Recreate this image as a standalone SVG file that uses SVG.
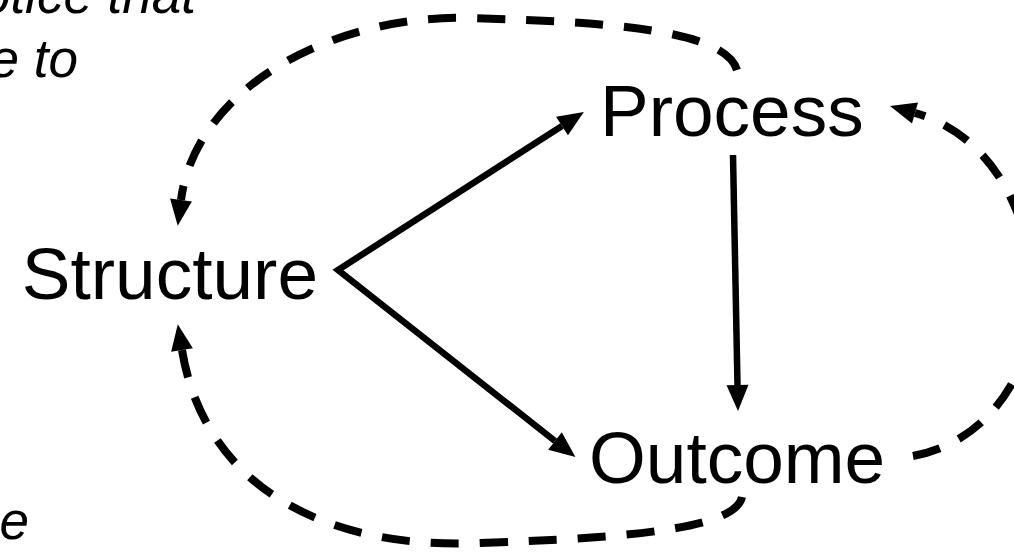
<svg xmlns="http://www.w3.org/2000/svg" width="1014" height="553" viewBox="0 0 1014 553">
  <style>
    .label { font-family: "Liberation Sans", Arial, sans-serif; font-size: 73px; fill: #000; }
    .note { font-family: "Liberation Sans", Arial, sans-serif; font-size: 53px; font-style: italic; fill: #000; }
    .solid { fill: none; stroke: #000; stroke-width: 6.5; }
    .dashed { fill: none; stroke: #000; stroke-width: 8; stroke-dasharray: 28 21; }
  </style>
  <defs>
    <marker id="head" markerUnits="userSpaceOnUse" markerWidth="40" markerHeight="40" refX="0" refY="0" orient="auto-start-reverse" overflow="visible">
      <path d="M0,-11 L26,0 L0,11 z" fill="#000"/>
    </marker>
  </defs>
  <rect width="1014" height="553" fill="#fff"/>

  <!-- note text running in from the left margin -->
  <g id="note">
    <text class="note" x="196" y="13" text-anchor="end">otice that</text>
    <text class="note" x="78" y="77" text-anchor="end">e to</text>
    <text class="note" x="29" y="539" text-anchor="end">e</text>
  </g>

  <g id="structure"><text class="label" x="318" y="299" text-anchor="end">Structure</text></g>
  <g id="process"><text class="label" x="600" y="136">Process</text></g>
  <g id="outcome"><text class="label" x="589" y="483">Outcome</text></g>

  <g id="connectors">
    <!-- Structure to Process and Structure to Outcome -->
    <path class="solid" d="M562,126 L338,270 L555,441" marker-start="url(#head)" marker-end="url(#head)"/>
    <!-- Process to Outcome -->
    <path class="solid" d="M733,155 L737.5,385" marker-end="url(#head)"/>
    <!-- feedback loops -->
    <path class="dashed" d="M737,70 C725,30 610,22 470,18 C330,14 195,90 181,200" marker-end="url(#head)"/>
    <path class="dashed" d="M742,497 C735,530 620,538 480,543 C330,550 205,490 182,350" marker-end="url(#head)"/>
    <path class="dashed" d="M913,456 C1000,440 1045,350 1032,270 C1020,185 975,130 915,113" marker-end="url(#head)"/>
  </g>
</svg>
